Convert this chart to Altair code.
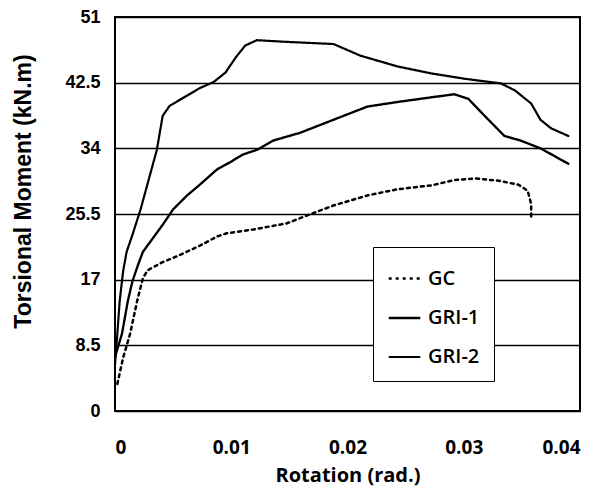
import altair as alt
import pandas as pd

series_names = ["GC", "GRI-1", "GRI-2"]

gc_x = [0.0002, 0.0007, 0.0013, 0.0019, 0.0024, 0.0028, 0.0040, 0.0056, 0.0073, 0.0088, 0.0096, 0.0119,
        0.0148, 0.0165, 0.0188, 0.0217, 0.0243, 0.0272, 0.0292, 0.0310, 0.0330, 0.0347, 0.0355, 0.0358, 0.0358]
gc_y = [3.5, 6.9, 10.0, 14.2, 17.2, 18.2, 19.2, 20.2, 21.4, 22.6, 23.0, 23.5,
        24.3, 25.3, 26.6, 27.9, 28.7, 29.2, 29.9, 30.1, 29.8, 29.3, 28.5, 26.8, 25.0]

gri1_x = [0.0000, 0.0006, 0.0011, 0.0015, 0.0020, 0.0024, 0.0041, 0.0050, 0.0062, 0.0073, 0.0088, 0.0099,
          0.0110, 0.0122, 0.0136, 0.0159, 0.0188, 0.0217, 0.0243, 0.0272, 0.0292, 0.0304, 0.0318, 0.0335,
          0.0349, 0.0366, 0.0390]
gri1_y = [7.0, 10.0, 14.2, 16.8, 19.0, 20.6, 24.1, 26.1, 27.9, 29.3, 31.3, 32.2,
          33.2, 33.8, 35.0, 36.0, 37.7, 39.4, 40.0, 40.6, 41.0, 40.4, 38.2, 35.6,
          35.0, 34.0, 32.0]

gri2_x = [0.0000, 0.0002, 0.0004, 0.0007, 0.0010, 0.0015, 0.0022, 0.0030, 0.0036, 0.0041, 0.0047, 0.0073,
          0.0085, 0.0095, 0.0104, 0.0112, 0.0122, 0.0145, 0.0188, 0.0211, 0.0243, 0.0272, 0.0301, 0.0332,
          0.0344, 0.0358, 0.0366, 0.0375, 0.0390]
gri2_y = [6.0, 10.0, 14.2, 18.1, 20.6, 22.8, 26.1, 30.5, 33.8, 38.2, 39.5, 41.8,
          42.6, 43.8, 45.8, 47.3, 48.0, 47.8, 47.5, 46.0, 44.6, 43.7, 43.0, 42.4,
          41.5, 39.8, 37.7, 36.6, 35.6]

x_ticks = [0, 0.01, 0.02, 0.03, 0.04]
y_ticks = [0, 8.5, 17, 25.5, 34, 42.5, 51]

rows = []
for name, xs, ys in zip(series_names, [gc_x, gri1_x, gri2_x], [gc_y, gri1_y, gri2_y]):
    for i, (xv, yv) in enumerate(zip(xs, ys)):
        rows.append({"series": name, "x": xv, "y": yv, "order": i})
df = pd.DataFrame(rows)

chart = alt.Chart(df).mark_line(color="black", strokeCap="round").encode(
    x=alt.X("x:Q",
            scale=alt.Scale(domain=[0, 0.04], nice=False),
            axis=alt.Axis(values=x_ticks, title="Rotation (rad.)", grid=False, ticks=False,
                          domain=False,
                          labelExpr="datum.value == 0 ? '0' : format(datum.value, '.2f')",
                          labelFont="Open Sans", labelFontSize=19, labelFontWeight="bold",
                          labelColor="black", labelPadding=27,
                          titleFont="Open Sans", titleFontSize=20, titleFontWeight="bold",
                          titleColor="black", titlePadding=8)),
    y=alt.Y("y:Q",
            scale=alt.Scale(domain=[0, 51], nice=False),
            axis=alt.Axis(values=y_ticks, title="Torsional Moment (kN.m)", grid=True,
                          gridColor="black", gridWidth=1.6, gridOpacity=1,
                          ticks=False, domain=False,
                          labelExpr="toString(datum.value)",
                          labelFont="Liberation Sans", labelFontSize=18, labelFontWeight="bold",
                          labelColor="black", labelPadding=15,
                          titleFont="Liberation Sans", titleFontSize=23, titleFontWeight="bold",
                          titleColor="black", titleX=-92, titleY=174, titleBaseline="middle")),
    order="order:Q",
    strokeDash=alt.StrokeDash("series:N",
                              scale=alt.Scale(domain=series_names, range=[[3, 4], [1, 0], [1, 0]]),
                              legend=alt.Legend(title=None, orient="none", legendX=258, legendY=230,
                                                strokeColor="black", fillColor="white",
                                                padding=14, symbolType="stroke",
                                                symbolSize=1000, symbolStrokeColor="black",
                                                symbolStrokeWidth=2.5, rowPadding=12,
                                                labelFont="Open Sans", labelFontSize=20,
                                                labelFontWeight=600, labelColor="black",
                                                labelOffset=6)),
    strokeWidth=alt.StrokeWidth("series:N",
                                scale=alt.Scale(domain=series_names, range=[2.5, 2.2, 1.6]),
                                legend=None),
).properties(
    width=465, height=394,
    autosize=alt.AutoSizeParams(type="none"),
    padding={"left": 107, "top": 9, "right": 10, "bottom": 82},
).configure_view(
    stroke="black", strokeWidth=2
)

chart.save("out.html", embed_options={"renderer": "svg", "actions": False})
